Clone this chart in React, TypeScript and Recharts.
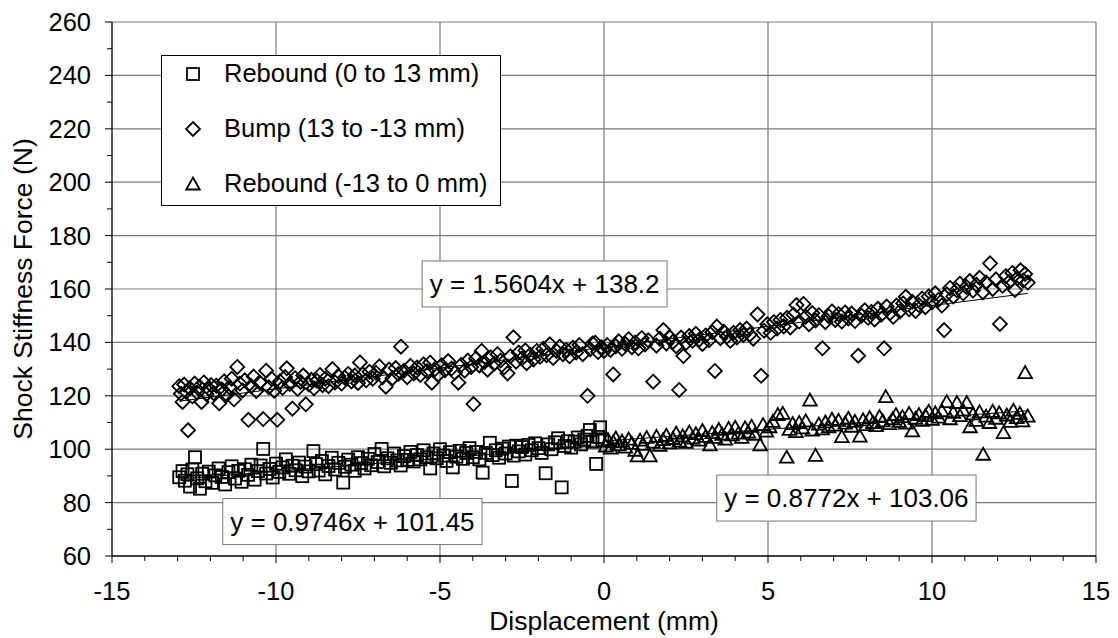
import { ScatterChart, Scatter, XAxis, YAxis, ReferenceLine, ReferenceDot, Legend } from "recharts"

// Rebound (0 to 13 mm) - squares, x from -13 to 0
const reboundA: [number, number][] = [
  [-12.95, 89.5], [-12.85, 91.8], [-12.78, 88.2], [-12.7, 90.6], [-12.62, 86.0], [-12.55, 92.4], [-12.47, 97.0],
  [-12.4, 89.1], [-12.32, 85.2], [-12.25, 90.8], [-12.15, 88.0], [-12.05, 91.6], [-11.95, 87.4], [-11.85, 90.2],
  [-11.75, 92.8], [-11.65, 89.6], [-11.55, 86.8], [-11.45, 91.4], [-11.35, 93.6], [-11.25, 89.0], [-11.15, 91.9],
  [-11.05, 87.8], [-10.95, 92.5], [-10.85, 90.4], [-10.75, 94.2], [-10.65, 88.6], [-10.55, 91.8], [-10.47, 93.9],
  [-10.39, 100.1], [-10.3, 90.9], [-10.2, 92.6], [-10.1, 89.4], [-10.0, 94.6], [-9.9, 91.5], [-9.8, 93.2],
  [-9.7, 96.2], [-9.6, 90.8], [-9.5, 93.8], [-9.4, 92.1], [-9.3, 95.0], [-9.2, 89.9], [-9.1, 93.5], [-9.0, 91.7],
  [-8.86, 99.3], [-8.78, 94.4], [-8.7, 92.0], [-8.6, 95.6], [-8.5, 90.6], [-8.4, 93.7], [-8.3, 96.8], [-8.2, 92.4],
  [-8.1, 94.9], [-7.95, 87.5], [-7.9, 93.4], [-7.8, 96.1], [-7.7, 94.2], [-7.6, 91.9], [-7.5, 97.0], [-7.4, 94.8],
  [-7.3, 92.8], [-7.2, 96.4], [-7.1, 94.0], [-7.0, 98.2], [-6.9, 95.2], [-6.78, 100.1], [-6.7, 93.6], [-6.6, 96.6],
  [-6.5, 94.9], [-6.4, 98.4], [-6.3, 95.8], [-6.2, 93.9], [-6.1, 97.4], [-6.0, 96.0], [-5.9, 99.0], [-5.8, 95.4],
  [-5.7, 97.8], [-5.6, 96.2], [-5.5, 99.6], [-5.4, 97.0], [-5.3, 92.8], [-5.2, 98.4], [-5.1, 96.6], [-5.0, 100.0],
  [-4.9, 97.6], [-4.8, 95.6], [-4.7, 98.9], [-4.61, 93.2], [-4.5, 97.2], [-4.4, 99.4], [-4.3, 96.4], [-4.2, 98.6],
  [-4.1, 100.4], [-4.0, 97.0], [-3.9, 99.0], [-3.8, 96.2], [-3.7, 91.2], [-3.6, 98.6], [-3.48, 102.4], [-3.4, 97.8],
  [-3.3, 99.6], [-3.2, 96.8], [-3.1, 100.2], [-3.0, 98.4], [-2.9, 101.0], [-2.81, 88.1], [-2.75, 97.6],
  [-2.68, 101.3], [-2.6, 99.2], [-2.5, 100.8], [-2.4, 98.0], [-2.3, 101.6], [-2.2, 99.6], [-2.1, 102.2],
  [-2.0, 100.4], [-1.9, 98.6], [-1.78, 91.0], [-1.7, 101.8], [-1.6, 100.0], [-1.5, 102.6], [-1.4, 104.1],
  [-1.29, 85.7], [-1.2, 101.2], [-1.1, 103.0], [-1.0, 100.6], [-0.9, 102.8], [-0.8, 104.4], [-0.7, 101.8],
  [-0.6, 103.6], [-0.5, 105.0], [-0.43, 107.2], [-0.35, 102.8], [-0.24, 94.5], [-0.18, 104.6], [-0.12, 108.2],
  [-0.05, 103.2],
]

// Bump (13 to -13 mm) - diamonds
const bump: [number, number][] = [
  [-12.95, 123.6], [-12.9, 120.8], [-12.85, 117.7], [-12.8, 124.2], [-12.74, 121.5], [-12.68, 107.1], [-12.62, 122.8],
  [-12.55, 119.8], [-12.48, 124.6], [-12.4, 121.2], [-12.33, 123.4], [-12.27, 117.7], [-12.2, 125.0], [-12.12, 120.6],
  [-12.05, 122.6], [-11.98, 124.0], [-11.9, 121.0], [-11.82, 123.8], [-11.73, 117.2], [-11.65, 122.4], [-11.58, 125.4],
  [-11.5, 120.4], [-11.42, 123.2], [-11.35, 126.4], [-11.28, 118.7], [-11.18, 130.8], [-11.1, 124.6], [-11.02, 122.0],
  [-10.95, 125.8], [-10.84, 111.0], [-10.76, 123.6], [-10.68, 127.2], [-10.6, 121.8], [-10.5, 125.0], [-10.39, 111.3],
  [-10.3, 129.4], [-10.22, 123.2], [-10.14, 126.4], [-10.05, 121.9], [-9.96, 111.0], [-9.88, 125.4], [-9.8, 123.0],
  [-9.72, 127.0], [-9.67, 130.3], [-9.58, 124.4], [-9.5, 115.2], [-9.42, 126.6], [-9.34, 122.6], [-9.25, 125.2],
  [-9.17, 127.6], [-9.09, 116.8], [-9.0, 124.2], [-8.92, 126.0], [-8.84, 122.8], [-8.75, 125.6], [-8.66, 127.8],
  [-8.58, 124.0], [-8.5, 126.4], [-8.4, 123.6], [-8.28, 130.0], [-8.2, 125.0], [-8.1, 127.4], [-8.0, 124.6],
  [-7.9, 126.8], [-7.8, 128.2], [-7.7, 125.4], [-7.6, 127.6], [-7.5, 124.8], [-7.44, 132.5], [-7.35, 128.0],
  [-7.25, 125.8], [-7.15, 129.0], [-7.05, 126.4], [-6.95, 128.6], [-6.85, 131.0], [-6.75, 127.0], [-6.65, 123.4],
  [-6.55, 129.8], [-6.45, 126.6], [-6.35, 130.4], [-6.27, 128.2], [-6.19, 138.4], [-6.1, 129.4], [-6.0, 127.0],
  [-5.9, 131.2], [-5.8, 128.4], [-5.7, 130.6], [-5.6, 127.8], [-5.5, 131.8], [-5.4, 129.2], [-5.3, 132.4],
  [-5.25, 124.9], [-5.15, 130.0], [-5.05, 128.0], [-4.95, 131.4], [-4.85, 129.6], [-4.75, 133.0], [-4.65, 130.2],
  [-4.55, 128.6], [-4.44, 124.9], [-4.35, 131.6], [-4.25, 129.4], [-4.15, 133.2], [-4.05, 130.8], [-3.98, 116.9],
  [-3.9, 134.0], [-3.8, 131.4], [-3.73, 136.8], [-3.65, 132.6], [-3.55, 129.8], [-3.45, 134.4], [-3.35, 132.0],
  [-3.25, 135.6], [-3.15, 133.2], [-3.05, 130.6], [-2.94, 128.4], [-2.85, 134.8], [-2.76, 141.9], [-2.68, 132.8],
  [-2.6, 136.2], [-2.5, 134.0], [-2.4, 137.0], [-2.36, 132.2], [-2.25, 135.4], [-2.15, 133.6], [-2.05, 136.8],
  [-1.95, 134.6], [-1.85, 137.6], [-1.75, 135.2], [-1.65, 139.3], [-1.55, 134.2], [-1.45, 136.8], [-1.35, 138.4],
  [-1.25, 135.6], [-1.15, 137.2], [-1.05, 134.8], [-0.95, 138.0], [-0.85, 136.2], [-0.75, 139.0], [-0.65, 135.6],
  [-0.5, 120.0], [-0.42, 137.4], [-0.35, 139.6], [-0.27, 139.9], [-0.18, 136.4], [-0.08, 138.2], [0.0, 136.8],
  [0.1, 139.0], [0.2, 137.2], [0.28, 128.0], [0.36, 138.6], [0.45, 140.4], [0.55, 137.6], [0.65, 139.4],
  [0.75, 141.2], [0.85, 138.2], [0.95, 140.0], [1.05, 137.8], [1.15, 141.6], [1.25, 139.2], [1.35, 140.8],
  [1.5, 125.3], [1.6, 138.8], [1.7, 141.4], [1.81, 144.6], [1.9, 139.6], [2.0, 142.0], [2.1, 140.2], [2.2, 138.6],
  [2.29, 122.2], [2.35, 141.8], [2.42, 134.9], [2.5, 139.8], [2.6, 142.4], [2.7, 140.6], [2.8, 143.2], [2.9, 141.0],
  [3.0, 139.4], [3.1, 142.6], [3.2, 140.8], [3.3, 143.8], [3.38, 129.3], [3.44, 145.9], [3.55, 141.6], [3.65, 144.0],
  [3.75, 142.2], [3.85, 140.6], [3.95, 143.6], [4.05, 141.8], [4.15, 144.6], [4.25, 142.8], [4.35, 145.2],
  [4.45, 143.0], [4.55, 141.4], [4.68, 150.5], [4.79, 127.5], [4.88, 144.4], [4.98, 146.8], [5.08, 143.6],
  [5.18, 147.6], [5.28, 145.2], [5.38, 148.4], [5.48, 146.0], [5.58, 149.2], [5.68, 145.6], [5.78, 150.4],
  [5.87, 154.0], [5.95, 147.8], [6.08, 154.4], [6.15, 149.6], [6.25, 146.8], [6.35, 151.0], [6.45, 148.2],
  [6.55, 150.2], [6.66, 137.8], [6.75, 147.6], [6.85, 149.8], [6.95, 151.6], [7.05, 148.4], [7.15, 150.6],
  [7.25, 147.8], [7.35, 151.2], [7.45, 149.0], [7.55, 150.8], [7.65, 148.0], [7.75, 135.0], [7.85, 150.0],
  [7.95, 152.0], [8.05, 149.2], [8.15, 151.4], [8.25, 148.6], [8.35, 152.6], [8.45, 150.4], [8.54, 137.8],
  [8.62, 153.4], [8.72, 151.0], [8.82, 149.6], [8.92, 153.8], [9.02, 151.6], [9.12, 154.6], [9.2, 157.1],
  [9.3, 152.4], [9.4, 155.2], [9.5, 151.8], [9.6, 154.0], [9.7, 156.4], [9.8, 153.2], [9.9, 157.2], [10.0, 155.0],
  [10.1, 158.4], [10.2, 156.0], [10.3, 153.8], [10.37, 144.6], [10.45, 158.0], [10.55, 160.4], [10.65, 157.2],
  [10.75, 159.6], [10.85, 162.0], [10.95, 158.4], [11.05, 160.8], [11.15, 163.0], [11.25, 159.4], [11.35, 161.6],
  [11.45, 164.2], [11.55, 158.8], [11.65, 162.4], [11.77, 169.6], [11.85, 160.0], [11.95, 163.6], [12.07, 146.9],
  [12.15, 161.2], [12.25, 164.8], [12.35, 162.6], [12.45, 166.0], [12.53, 159.6], [12.6, 164.0], [12.7, 167.0],
  [12.78, 163.2], [12.84, 165.6], [12.92, 162.4],
]

// Rebound (-13 to 0 mm) - triangles, x from 0 to 13
const reboundB: [number, number][] = [
  [0.05, 101.2], [0.12, 103.6], [0.2, 100.4], [0.28, 102.8], [0.36, 104.2], [0.45, 101.6], [0.55, 103.0],
  [0.65, 100.8], [0.75, 103.8], [0.85, 102.2], [0.95, 99.6], [1.02, 97.5], [1.1, 103.4], [1.2, 101.8], [1.3, 104.4],
  [1.4, 97.5], [1.5, 102.6], [1.6, 104.8], [1.7, 101.4], [1.8, 103.6], [1.9, 105.2], [2.0, 102.4], [2.1, 104.0],
  [2.2, 106.0], [2.3, 103.0], [2.4, 105.0], [2.5, 102.6], [2.6, 106.4], [2.7, 104.2], [2.8, 105.8], [2.9, 103.4],
  [3.0, 107.0], [3.1, 104.8], [3.23, 101.6], [3.3, 106.2], [3.4, 104.4], [3.5, 107.4], [3.6, 105.6], [3.7, 103.8],
  [3.8, 107.8], [3.9, 105.4], [4.0, 108.2], [4.1, 106.0], [4.2, 104.4], [4.3, 108.0], [4.4, 106.4], [4.5, 108.6],
  [4.6, 105.6], [4.76, 101.6], [4.85, 109.2], [4.95, 106.8], [5.05, 108.4], [5.15, 110.4], [5.3, 113.0],
  [5.45, 113.4], [5.57, 97.0], [5.65, 107.4], [5.75, 109.6], [5.85, 106.6], [5.95, 110.0], [6.05, 108.0],
  [6.15, 110.6], [6.28, 118.4], [6.35, 107.2], [6.45, 97.7], [6.55, 109.4], [6.65, 107.6], [6.75, 110.2],
  [6.85, 108.4], [6.95, 111.2], [7.05, 109.0], [7.15, 110.8], [7.25, 104.7], [7.35, 109.8], [7.45, 111.6],
  [7.55, 108.6], [7.65, 110.4], [7.8, 104.9], [7.9, 111.0], [8.0, 109.2], [8.1, 111.8], [8.2, 110.0], [8.3, 108.8],
  [8.4, 112.2], [8.5, 110.6], [8.59, 119.7], [8.7, 109.6], [8.8, 111.4], [8.9, 113.0], [9.0, 110.4], [9.1, 112.2],
  [9.2, 109.8], [9.3, 113.4], [9.4, 106.9], [9.5, 111.6], [9.6, 113.0], [9.7, 110.8], [9.8, 112.6], [9.9, 114.2],
  [10.0, 111.2], [10.1, 113.6], [10.2, 112.0], [10.3, 114.4], [10.45, 117.8], [10.55, 111.4], [10.65, 113.8],
  [10.76, 117.5], [10.85, 112.6], [10.95, 114.6], [11.06, 117.5], [11.16, 108.4], [11.25, 113.2], [11.35, 110.8],
  [11.45, 114.0], [11.56, 98.1], [11.65, 112.4], [11.75, 110.0], [11.85, 114.2], [11.95, 111.6], [12.05, 113.6],
  [12.18, 106.2], [12.28, 112.8], [12.38, 110.4], [12.48, 114.6], [12.58, 111.8], [12.68, 113.4], [12.76, 110.6],
  [12.84, 128.7], [12.92, 112.4],
]

const seriesNames = ["Rebound (0 to 13 mm)", "Bump (13 to -13 mm)", "Rebound (-13 to 0 mm)"]
const trendSlopes = [0.9746, 1.5604, 0.8772]
const trendIntercepts = [101.45, 138.2, 103.06]
// where each equation box sits, in data units
const eqAnchors: [number, number][] = [[-7.67, 72.9], [-1.81, 161.9], [7.39, 81.7]]

const xMajor = [-15, -10, -5, 0, 5, 10, 15]
const yMajor = [60, 80, 100, 120, 140, 160, 180, 200, 220, 240, 260]
const xMinor = Array.from({ length: 31 }, (_, i) => -15 + i)
const yMinor = Array.from({ length: 21 }, (_, i) => 60 + i * 10)

const FONT = '"Liberation Sans", Arial, sans-serif'
const GRID = "#7a7a7a"
const TEXT_SIZE = 25.5
const TITLE_SIZE = 26.5
const EQ_SIZE = 26

const toPts = (arr: [number, number][]) => arr.map(([x, y]) => ({ x, y }))

// rough Arial advance widths, just to size the equation boxes
const charEm = (c: string) => (/[0-9]/.test(c) ? 0.556 : c === "." || c === " " ? 0.278 : c === "=" || c === "+" ? 0.584 : 0.5)
const textWidth = (s: string, size: number) => s.split("").reduce((a, c) => a + charEm(c), 0) * size

function SquareMark({ cx, cy }: any) {
  return <rect x={cx - 6} y={cy - 6} width={12} height={12} fill="none" stroke="#000" strokeWidth={1.8} />
}
function DiamondMark({ cx, cy }: any) {
  return <path d={`M${cx},${cy - 7}L${cx + 7},${cy}L${cx},${cy + 7}L${cx - 7},${cy}Z`} fill="none" stroke="#000" strokeWidth={1.8} />
}
function TriangleMark({ cx, cy }: any) {
  return <path d={`M${cx},${cy - 6.5}L${cx + 6.8},${cy + 5.5}L${cx - 6.8},${cy + 5.5}Z`} fill="none" stroke="#000" strokeWidth={1.8} />
}
const marks = [SquareMark, DiamondMark, TriangleMark]

function XTick({ x, y, payload }: any) {
  const major = xMajor.includes(payload.value)
  return (
    <g>
      <line x1={x} x2={x} y1={y} y2={y + (major ? 7 : 5)} stroke="#000" />
      {major && (
        <text x={x} y={y + 44} textAnchor="middle" fontSize={TEXT_SIZE} fontFamily={FONT} fill="#000">
          {payload.value}
        </text>
      )}
    </g>
  )
}

function YTick({ x, y, payload }: any) {
  const major = yMajor.includes(payload.value)
  return (
    <g>
      <line x1={x - (major ? 7 : 5)} x2={x} y1={y} y2={y} stroke="#000" />
      {major && (
        <text x={x - 21} y={y + 9} textAnchor="end" fontSize={TEXT_SIZE} fontFamily={FONT} fill="#000">
          {payload.value}
        </text>
      )}
    </g>
  )
}

function EqBox({ cx, cy, text }: any) {
  const w = textWidth(text, EQ_SIZE) + 15
  return (
    <g>
      <rect x={cx - w / 2} y={cy - 23} width={w} height={46} fill="#fff" stroke="#777" strokeWidth={1} />
      <text x={cx} y={cy + 9} textAnchor="middle" fontSize={EQ_SIZE} fontFamily={FONT} fill="#000">
        {text}
      </text>
    </g>
  )
}

function LegendBox() {
  return (
    <div style={{ border: "1px solid #000", background: "#fff", width: 340, height: 151, boxSizing: "border-box", fontFamily: FONT, fontSize: TEXT_SIZE, lineHeight: 1 }}>
      {seriesNames.map((name, i) => {
        const Mark = marks[i]
        return (
          <div key={name} style={{ display: "flex", alignItems: "center", height: 36, marginBottom: 19 }}>
            <svg width={62} height={20} style={{ display: "block" }}>
              <Mark cx={31} cy={10} />
            </svg>
            <span>{name}</span>
          </div>
        )
      })}
    </div>
  )
}

const allSeries = [reboundA, bump, reboundB]

export default function App() {
  return (
    <div style={{ position: "absolute", left: 0, top: 0, width: 1118, height: 638, background: "#fff", fontFamily: FONT }}>
      <ScatterChart width={1118} height={638} margin={{ top: 22, right: 22, bottom: 0, left: 0 }}>
        {xMajor.slice(1).map((v) => (
          <ReferenceLine key={"gx" + v} x={v} stroke={GRID} strokeWidth={1.2} />
        ))}
        {yMajor.slice(1).map((v) => (
          <ReferenceLine key={"gy" + v} y={v} stroke={GRID} strokeWidth={1.2} />
        ))}
        <XAxis
          type="number"
          dataKey="x"
          domain={[-15, 15]}
          ticks={xMinor}
          interval={0}
          height={82}
          tickSize={0}
          tickMargin={0}
          tickLine={false}
          axisLine={{ stroke: "#000", strokeWidth: 1.3 }}
          tick={<XTick />}
          allowDataOverflow
          label={{
            content: () => (
              <text x={604} y={630} textAnchor="middle" fontSize={TITLE_SIZE} fontFamily={FONT} fill="#000">
                Displacement (mm)
              </text>
            ),
          }}
        />
        <YAxis
          type="number"
          dataKey="y"
          domain={[60, 260]}
          ticks={yMinor}
          interval={0}
          width={112}
          tickSize={0}
          tickMargin={0}
          tickLine={false}
          axisLine={{ stroke: "#000", strokeWidth: 1.3 }}
          tick={<YTick />}
          allowDataOverflow
          label={{
            content: () => (
              <text x={23} y={289} transform="rotate(-90 23 289)" textAnchor="middle" dominantBaseline="central" fontSize={TITLE_SIZE} fontFamily={FONT} fill="#000">
                Shock Stiffness Force (N)
              </text>
            ),
          }}
        />
        {allSeries.map((s, i) => {
          const xs = s.map((p) => p[0])
          const x0 = Math.min(...xs)
          const x1 = Math.max(...xs)
          return (
            <ReferenceLine
              key={"trend" + i}
              segment={[
                { x: x0, y: trendSlopes[i] * x0 + trendIntercepts[i] },
                { x: x1, y: trendSlopes[i] * x1 + trendIntercepts[i] },
              ]}
              stroke="#000"
              strokeWidth={1}
            />
          )
        })}
        {allSeries.map((s, i) => {
          const Mark = marks[i]
          return (
            <Scatter
              key={seriesNames[i]}
              name={seriesNames[i]}
              data={toPts(s)}
              isAnimationActive={false}
              shape={(p: any) => <Mark cx={p.cx} cy={p.cy} />}
            />
          )
        })}
        {eqAnchors.map(([ex, ey], i) => (
          <ReferenceDot
            key={"eq" + i}
            x={ex}
            y={ey}
            r={0}
            shape={(p: any) => <EqBox cx={p.cx} cy={p.cy} text={`y = ${trendSlopes[i]}x + ${trendIntercepts[i]}`} />}
          />
        ))}
        <Legend
          layout="vertical"
          align="center"
          verticalAlign="middle"
          content={() => <LegendBox />}
          wrapperStyle={{ left: 161, top: 55, width: 340 }}
        />
      </ScatterChart>
    </div>
  )
}
